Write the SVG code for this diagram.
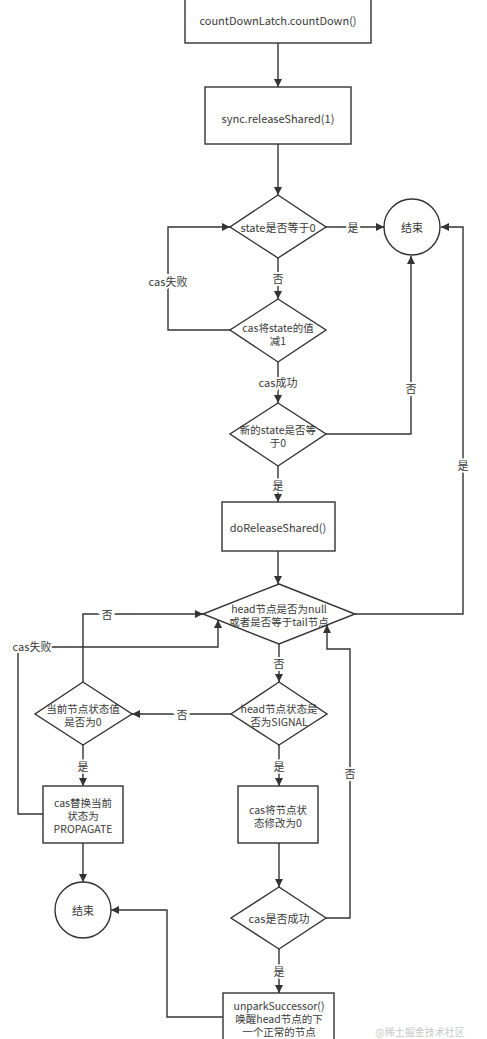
<svg xmlns="http://www.w3.org/2000/svg" width="487" height="1039" viewBox="0 0 487 1039">
<style>
.s{fill:#fff;stroke:#333;stroke-width:1.4}
.e{fill:none;stroke:#333;stroke-width:1.4}
text{font-family:"Noto Sans CJK SC","Noto Sans",sans-serif;font-size:11px;fill:#3a3a3a;text-anchor:middle;dominant-baseline:central}
.m{font-size:10.5px}
.l{stroke:#fff;stroke-width:4;paint-order:stroke}
.wm{fill:#c8c8c8;font-size:10px}
</style>
<defs>
<marker id="a" markerWidth="10" markerHeight="10" refX="8" refY="4" orient="auto" markerUnits="userSpaceOnUse">
<path d="M0,0 L8,4 L0,8 Z" fill="#333"/>
</marker>
</defs>
<rect width="487" height="1039" fill="#fff"/>
<g id="connectors">
<path class="e" d="M278,43 V87" marker-end="url(#a)"/>
<path class="e" d="M278,144 V195" marker-end="url(#a)"/>
<path class="e" d="M326,227 H384" marker-end="url(#a)"/>
<path class="e" d="M278,258 V299" marker-end="url(#a)"/>
<path class="e" d="M230,330 H168 V227 H230" marker-end="url(#a)"/>
<path class="e" d="M278,362 V403" marker-end="url(#a)"/>
<path class="e" d="M326,434 H411 V256" marker-end="url(#a)"/>
<path class="e" d="M278,466 V502" marker-end="url(#a)"/>
<path class="e" d="M278,551 V584" marker-end="url(#a)"/>
<path class="e" d="M355,614 H463 V227 H441" marker-end="url(#a)"/>
<path class="e" d="M279,644 V682" marker-end="url(#a)"/>
<path class="e" d="M231,714 H132" marker-end="url(#a)"/>
<path class="e" d="M83,682 V614 H203" marker-end="url(#a)"/>
<path class="e" d="M83,745 V786" marker-end="url(#a)"/>
<path class="e" d="M43,814 H18 V647 H218 V620" marker-end="url(#a)"/>
<path class="e" d="M83,843 V882" marker-end="url(#a)"/>
<path class="e" d="M279,745 V786" marker-end="url(#a)"/>
<path class="e" d="M279,843 V887" marker-end="url(#a)"/>
<path class="e" d="M326,918 H350 V649 H327 V625" marker-end="url(#a)"/>
<path class="e" d="M279,949 V993" marker-end="url(#a)"/>
<path class="e" d="M223,1017 H167 V910 H111" marker-end="url(#a)"/>
<text class="l" x="353" y="227">是</text>
<text class="l" x="278" y="278">否</text>
<text class="l" x="168" y="281">cas失败</text>
<text class="l" x="278" y="382">cas成功</text>
<text class="l" x="411" y="388">否</text>
<text class="l" x="278" y="485">是</text>
<text class="l" x="463" y="465">是</text>
<text class="l" x="279" y="663">否</text>
<text class="l" x="182" y="714">否</text>
<text class="l" x="107" y="614">否</text>
<text class="l" x="83" y="766">是</text>
<text class="l" x="32" y="646">cas失败</text>
<text class="l" x="279" y="766">是</text>
<text class="l" x="350" y="773">否</text>
<text class="l" x="279" y="971">是</text>
</g>
<g id="n1"><rect class="s" x="185" y="-2" width="186" height="45"/><text x="278" y="20">countDownLatch.countDown()</text></g>
<g id="n2"><rect class="s" x="205" y="87" width="146" height="57"/><text x="278" y="118">sync.releaseShared(1)</text></g>
<g id="n3"><polygon class="s" points="278,195 326,227 278,258 230,227"/><text x="278" y="227">state是否等于0</text></g>
<g id="n4"><circle class="s" cx="412" cy="227" r="28"/><text x="412" y="227">结束</text></g>
<g id="n5"><polygon class="s" points="278,299 326,330 278,362 230,330"/><text class="m" x="278" y="327">cas将state的值<tspan x="278" dy="13">减1</tspan></text></g>
<g id="n6"><polygon class="s" points="278,403 326,434 278,466 230,434"/><text class="m" x="278" y="429">新的state是否等<tspan x="278" dy="13">于0</tspan></text></g>
<g id="n7"><rect class="s" x="222" y="502" width="113" height="49"/><text x="278" y="527">doReleaseShared()</text></g>
<g id="n8"><polygon class="s" points="279,584 355,614 279,644 203,614"/><text class="m" x="279" y="608">head节点是否为null<tspan x="279" dy="13">或者是否等于tail节点</tspan></text></g>
<g id="n9"><polygon class="s" points="279,682 327,714 279,745 231,714"/><text class="m" x="279" y="708">head节点状态是<tspan x="279" dy="13">否为SIGNAL</tspan></text></g>
<g id="n10"><polygon class="s" points="83,682 132,714 83,745 35,714"/><text class="m" x="83" y="708">当前节点状态值<tspan x="83" dy="13">是否为0</tspan></text></g>
<g id="n11"><rect class="s" x="43" y="786" width="80" height="57"/><text class="m" x="83" y="802">cas替换当前<tspan x="83" dy="13">状态为</tspan><tspan x="83" dy="13">PROPAGATE</tspan></text></g>
<g id="n12"><rect class="s" x="238" y="786" width="80" height="57"/><text class="m" x="278" y="809">cas将节点状<tspan x="278" dy="13">态修改为0</tspan></text></g>
<g id="n13"><circle class="s" cx="83" cy="910" r="28"/><text x="83" y="910">结束</text></g>
<g id="n14"><polygon class="s" points="279,887 326,918 279,949 231,918"/><text x="279" y="918">cas是否成功</text></g>
<g id="n15"><rect class="s" x="223" y="993" width="111" height="52"/><text class="m" x="279" y="1005">unparkSuccessor()<tspan x="279" dy="13">唤醒head节点的下</tspan><tspan x="279" dy="13">一个正常的节点</tspan></text></g>
<text class="wm" x="420" y="1031">@稀土掘金技术社区</text>
</svg>
